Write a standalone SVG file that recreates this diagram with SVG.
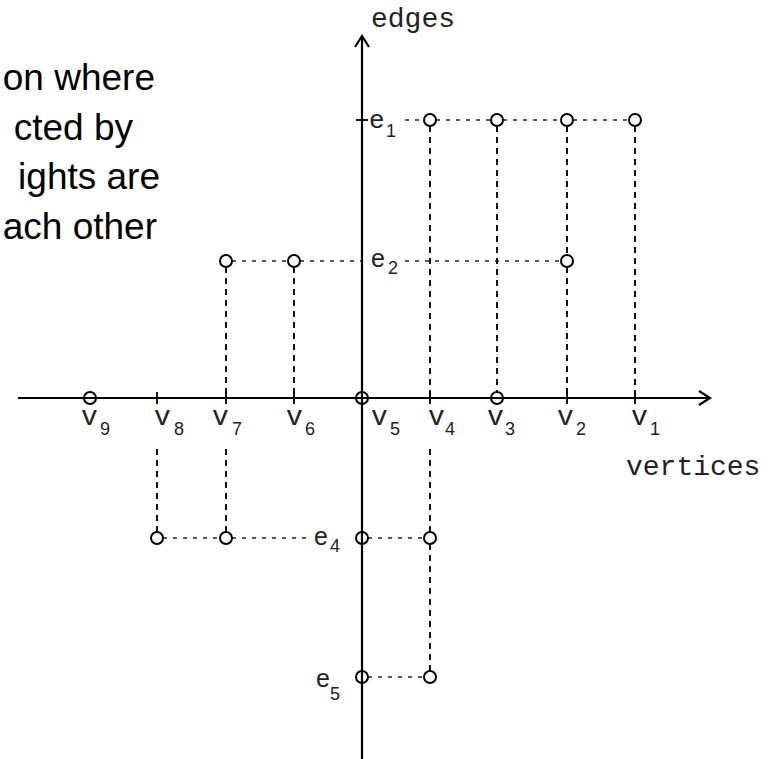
<svg xmlns="http://www.w3.org/2000/svg" width="773" height="759" viewBox="0 0 773 759">
<style>
.bg{fill:#fff}
.axis{stroke:#000;stroke-width:2.2;fill:none}
.hd{stroke:#222;stroke-width:1.6;stroke-dasharray:4 6;fill:none}
.vd{stroke:#111;stroke-width:2;stroke-dasharray:6 5;fill:none}
.tick{stroke:#000;stroke-width:1.8}
.node{fill:none;stroke:#000;stroke-width:2}
.cap{font-family:"Liberation Sans",Arial,sans-serif;font-size:37px;fill:#000;text-anchor:end}
.mono{font-family:"Liberation Mono","Courier New",monospace;font-size:28px;fill:#222}
.el{font-family:"Liberation Sans",Arial,sans-serif;font-size:25px;fill:#222}
.sub{font-family:"Liberation Sans",Arial,sans-serif;font-size:18px;fill:#222}
</style>
<rect class="bg" x="0" y="0" width="773" height="759"/>
<g id="caption">
<text class="cap" x="155" y="90">on where</text>
<text class="cap" x="133" y="140">cted by</text>
<text class="cap" x="160" y="189">ights are</text>
<text class="cap" x="157" y="239">ach other</text>
</g>
<g id="axes">
<line class="axis" x1="18" y1="398" x2="709" y2="398"/>
<path class="axis" d="M699,391 L710,398 L699,405"/>
<line class="axis" x1="362" y1="759" x2="362" y2="37"/>
<path class="axis" d="M355,47 L362,36 L369,47"/>
<text class="mono" x="371" y="27">edges</text>
<text class="mono" x="626" y="475">vertices</text>
</g>
<g id="connectors">
<line class="tick" x1="356" y1="120" x2="368" y2="120"/>
<line class="hd" x1="405" y1="120" x2="424" y2="120"/>
<line class="hd" x1="436" y1="120" x2="491" y2="120"/>
<line class="hd" x1="503" y1="120" x2="561" y2="120"/>
<line class="hd" x1="573" y1="120" x2="629" y2="120"/>
<line class="hd" x1="232" y1="261" x2="288" y2="261"/>
<line class="hd" x1="300" y1="261" x2="362" y2="261"/>
<line class="hd" x1="405" y1="261" x2="561" y2="261"/>
<line class="hd" x1="163" y1="538" x2="220" y2="538"/>
<line class="hd" x1="232" y1="538" x2="310" y2="538"/>
<line class="hd" x1="368" y1="538" x2="424" y2="538"/>
<line class="hd" x1="368" y1="677" x2="424" y2="677"/>
<line class="vd" x1="430" y1="126" x2="430" y2="398"/>
<line class="vd" x1="430" y1="449" x2="430" y2="532"/>
<line class="vd" x1="430" y1="544" x2="430" y2="671"/>
<line class="vd" x1="497" y1="126" x2="497" y2="392"/>
<line class="vd" x1="567" y1="126" x2="567" y2="255"/>
<line class="vd" x1="567" y1="267" x2="567" y2="398"/>
<line class="vd" x1="635" y1="126" x2="635" y2="398"/>
<line class="vd" x1="226" y1="267" x2="226" y2="398"/>
<line class="vd" x1="226" y1="449" x2="226" y2="532"/>
<line class="vd" x1="294" y1="267" x2="294" y2="398"/>
<line class="vd" x1="157" y1="449" x2="157" y2="532"/>
<line class="tick" x1="157" y1="392" x2="157" y2="404"/>
<line class="tick" x1="226" y1="392" x2="226" y2="404"/>
<line class="tick" x1="294" y1="392" x2="294" y2="404"/>
<line class="tick" x1="430" y1="392" x2="430" y2="404"/>
<line class="tick" x1="567" y1="392" x2="567" y2="404"/>
<line class="tick" x1="635" y1="392" x2="635" y2="404"/>
</g>
<g id="e1-row">
<circle id="n-e1-v4" class="node" cx="430" cy="120" r="6"/>
<circle id="n-e1-v3" class="node" cx="497" cy="120" r="6"/>
<circle id="n-e1-v2" class="node" cx="567" cy="120" r="6"/>
<circle id="n-e1-v1" class="node" cx="635" cy="120" r="6"/>
</g>
<g id="e2-row">
<circle id="n-e2-v7" class="node" cx="226" cy="261" r="6"/>
<circle id="n-e2-v6" class="node" cx="294" cy="261" r="6"/>
<circle id="n-e2-v2" class="node" cx="567" cy="261" r="6"/>
</g>
<g id="axis-nodes">
<circle id="n-v9" class="node" cx="90" cy="398" r="6"/>
<circle id="n-v5" class="node" cx="362" cy="398" r="6"/>
<circle id="n-v3" class="node" cx="497" cy="398" r="6"/>
</g>
<g id="e4-row">
<circle id="n-e4-v8" class="node" cx="157" cy="538" r="6"/>
<circle id="n-e4-v7" class="node" cx="226" cy="538" r="6"/>
<circle id="n-e4-v5" class="node" cx="362" cy="538" r="6"/>
<circle id="n-e4-v4" class="node" cx="430" cy="538" r="6"/>
</g>
<g id="e5-row">
<circle id="n-e5-v5" class="node" cx="362" cy="677" r="6"/>
<circle id="n-e5-v4" class="node" cx="430" cy="677" r="6"/>
</g>
<g id="edge-labels">
<text class="mono" x="369" y="128" style="font-size:26px">e</text><text class="sub" x="386" y="137">1</text>
<text class="el" x="371" y="267">e</text><text class="sub" x="388" y="274">2</text>
<text class="el" x="314" y="545">e</text><text class="sub" x="330" y="552">4</text>
<text class="el" x="316" y="687">e</text><text class="sub" x="330" y="700">5</text>
</g>
<g id="vertex-labels">
<text class="mono" x="81" y="425">v</text><text class="sub" x="100" y="435">9</text>
<text class="mono" x="154" y="425">v</text><text class="sub" x="174" y="435">8</text>
<text class="mono" x="212" y="425">v</text><text class="sub" x="232" y="435">7</text>
<text class="mono" x="286" y="425">v</text><text class="sub" x="305" y="435">6</text>
<text class="mono" x="371" y="425">v</text><text class="sub" x="390" y="435">5</text>
<text class="mono" x="428" y="425">v</text><text class="sub" x="445" y="435">4</text>
<text class="mono" x="487" y="425">v</text><text class="sub" x="505" y="435">3</text>
<text class="mono" x="557" y="425">v</text><text class="sub" x="576" y="435">2</text>
<text class="mono" x="631" y="425">v</text><text class="sub" x="650" y="435">1</text>
</g>
</svg>
